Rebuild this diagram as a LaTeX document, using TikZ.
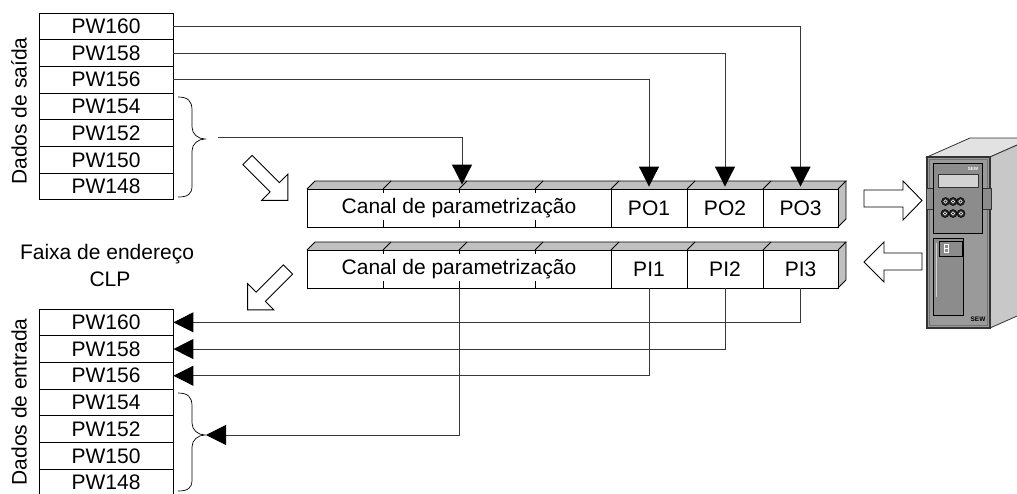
\documentclass[tikz,border=0pt]{standalone}
\usepackage{fontspec}
\setmainfont{Liberation Sans}
\usetikzlibrary{arrows.meta,calc}
\definecolor{facegray}{HTML}{C0C0C0}
\definecolor{linegray}{HTML}{383838}
\definecolor{devfront}{HTML}{9A9A9A}
\definecolor{devpanel}{HTML}{8C8C8C}
\definecolor{devside}{HTML}{C8C8C8}
\definecolor{devtop}{HTML}{E2E2E2}
\definecolor{devscreen}{HTML}{D2D2D2}
\begin{document}
\begin{tikzpicture}[x=1pt,y=-1pt,
  font=\fontsize{21}{24}\selectfont,
  line width=0.9pt,
  reg/.style={draw, minimum width=134pt, minimum height=26.7pt, inner sep=0pt},
  cell/.style={draw, minimum height=38pt, inner sep=0pt},
  link/.style={draw=linegray, line width=1pt},
  tip/.style={-{Triangle[length=20pt,width=20pt,fill=black,color=black]}},
  hollow/.style={draw, fill=white, line width=0.9pt},
  devline/.style={draw=black!80, line width=0.8pt},
  blockarrow/.pic={\draw[hollow] (0,-6.5) -- (38.6,-6.5) -- (38.6,-18.4) -- (57,0)
      -- (38.6,18.4) -- (38.6,6.5) -- (0,6.5) -- cycle;}]
\useasboundingbox (0,0) rectangle (1017,493);

% ---- PLC address range: output words and input words
\foreach \n [count=\k from 0] in {160,158,156,154,152,150,148}
  \node[reg] (o\n) at (106,{26.35+26.7*\k}) {PW\n};
\foreach \n [count=\k from 0] in {160,158,156,154,152,150,148}
  \node[reg] (i\n) at (106,{322.35+26.7*\k}) {PW\n};

\node[rotate=90] (lblout) at (19,111) {Dados de saída};
\node[rotate=90] (lblin) at (19,402) {Dados de entrada};
\node (lblrange) at (107,254) {Faixa de endereço};
\node (lblclp) at (110,279) {CLP};

% ---- braces grouping PW154..PW148
\draw[line width=0.7pt] (178,97) .. controls (188,97) and (192,101) .. (192,110)
  -- (192,127) .. controls (192,134) and (198,139) .. (205,139)
  .. controls (198,139) and (192,144) .. (192,151)
  -- (192,186) .. controls (192,194) and (188,197) .. (178,197);
\draw[line width=0.7pt] (178,393) .. controls (188,393) and (192,397) .. (192,406)
  -- (192,423) .. controls (192,430) and (198,435) .. (205,435)
  .. controls (198,435) and (192,440) .. (192,447)
  -- (192,480) .. controls (192,488) and (188,491) .. (178,491);

% ---- process data channels (3D strips)
\foreach \yt/\yb in {189/227, 250/288} {
  \fill[facegray] (307,\yt) -- (315,\yt-8) -- (846,\yt-8) -- (838,\yt) -- cycle;
  \fill[facegray] (838,\yt) -- (846,\yt-8) -- (846,\yb-8) -- (838,\yb) -- cycle;
  \draw (307,\yt) -- (315,\yt-8) -- (846,\yt-8) -- (838,\yt);
  \draw (846,\yt-8) -- (846,\yb-8) -- (838,\yb);
  \foreach \x in {383,459,535,611,687,763}
    \draw (\x,\yt) -- (\x+8,\yt-8);
  \foreach \x in {383,459,535} {
    \draw (\x,\yt) -- (\x,\yt+4);
    \draw (\x,\yb-7) -- (\x,\yb);
  }
}
\node[cell, minimum width=304pt] (canalO) at (459,208) {Canal de parametrização};
\node[cell, minimum width=76pt] (po1) at (649,208) {PO1};
\node[cell, minimum width=76pt] (po2) at (725,208) {PO2};
\node[cell, minimum width=75pt] (po3) at (800.5,208) {PO3};
\node[cell, minimum width=304pt] (canalI) at (459,269) {Canal de parametrização};
\node[cell, minimum width=76pt] (pi1) at (649,269) {PI1};
\node[cell, minimum width=76pt] (pi2) at (725,269) {PI2};
\node[cell, minimum width=75pt] (pi3) at (800.5,269) {PI3};

% ---- output data: PLC -> inverter
\coordinate (obr) at (218,137);
\draw[link,tip] (o160.east) -| ($(po3.north)+(0,-2)$);
\draw[link,tip] (o158.east) -| ($(po2.north)+(0,-2)$);
\draw[link,tip] (o156.east) -| ($(po1.north)+(0,-2)$);
\draw[link,tip] (obr) -| ($(canalO.north)+(3,-4)$);

% ---- input data: inverter -> PLC
\coordinate (ibr) at (206,435);
\draw[link,tip] (pi3.south) |- (i160.east);
\draw[link,tip] (pi2.south) |- (i158.east);
\draw[link,tip] (pi1.south) |- (i156.east);
\draw[link,tip] (canalI.south) |- (ibr);

% ---- hollow direction arrows
\path (247.5,160) pic[rotate=-45] {blockarrow};
\path (288,269.5) pic[rotate=-135] {blockarrow};
\draw[hollow] (864,190) -- (903,190) -- (903,181) -- (922,200.5) -- (903,220)
  -- (903,207) -- (864,207) -- cycle;
\draw[hollow] (922,253) -- (884,253) -- (884,242) -- (864,262) -- (884,282)
  -- (884,270) -- (922,270) -- cycle;

% ---- inverter unit
\filldraw[devline, fill=devtop] (927,157) -- (970,138) -- (1033,138) -- (990,157) -- cycle;
\filldraw[devline, fill=devside] (990,157) -- (1033,138) -- (1033,309) -- (990,328) -- cycle;
\filldraw[devline, fill=devfront, line width=1.1pt] (927,157) rectangle (990,328);
\draw[black!55, line width=0.8pt] (929.5,159.5) rectangle (987.5,325.5);
% keypad
\filldraw[devline, fill=devpanel] (926,188) rectangle (933,209);
\filldraw[devline, fill=devpanel] (982,188) rectangle (991,209);
\filldraw[draw=black, fill=devpanel, line width=1pt] (933,163) rectangle (982,233);
\filldraw[draw=black!80, fill=devscreen, line width=0.7pt] (938,174) rectangle (978,187);
\node[text=white, font=\fontsize{4.5}{5}\selectfont\bfseries, inner sep=0pt] (kplogo) at (973,168.5) {SEW};
\foreach \x/\y in {945.5/201.5, 953/201.5, 960.5/201.5, 945/213.5, 953/213.5, 961/213.5} {
  \filldraw[draw=black, fill=black!85, line width=0.5pt] (\x,\y) circle (4);
  \draw[white, line width=0.5pt] (\x,\y) circle (1.8);
}
% door with status display
\filldraw[draw=black, fill=devpanel, line width=1pt] (933,238) rectangle (963,315);
\filldraw[draw=black, fill=devpanel, line width=0.8pt] (939,241) rectangle (962,256);
\draw[white, line width=0.6pt] (944.5,244.5) rectangle (948.5,252.5);
\draw[white, line width=0.5pt] (944.5,248.5) -- (948.5,248.5);
\draw[devscreen, line width=1.4pt] (936.5,243) -- (936.5,297);
\node[font=\fontsize{6.5}{7}\selectfont\bfseries, inner sep=0pt] (devlogo) at (978,319.5) {SEW};
\end{tikzpicture}
\end{document}
